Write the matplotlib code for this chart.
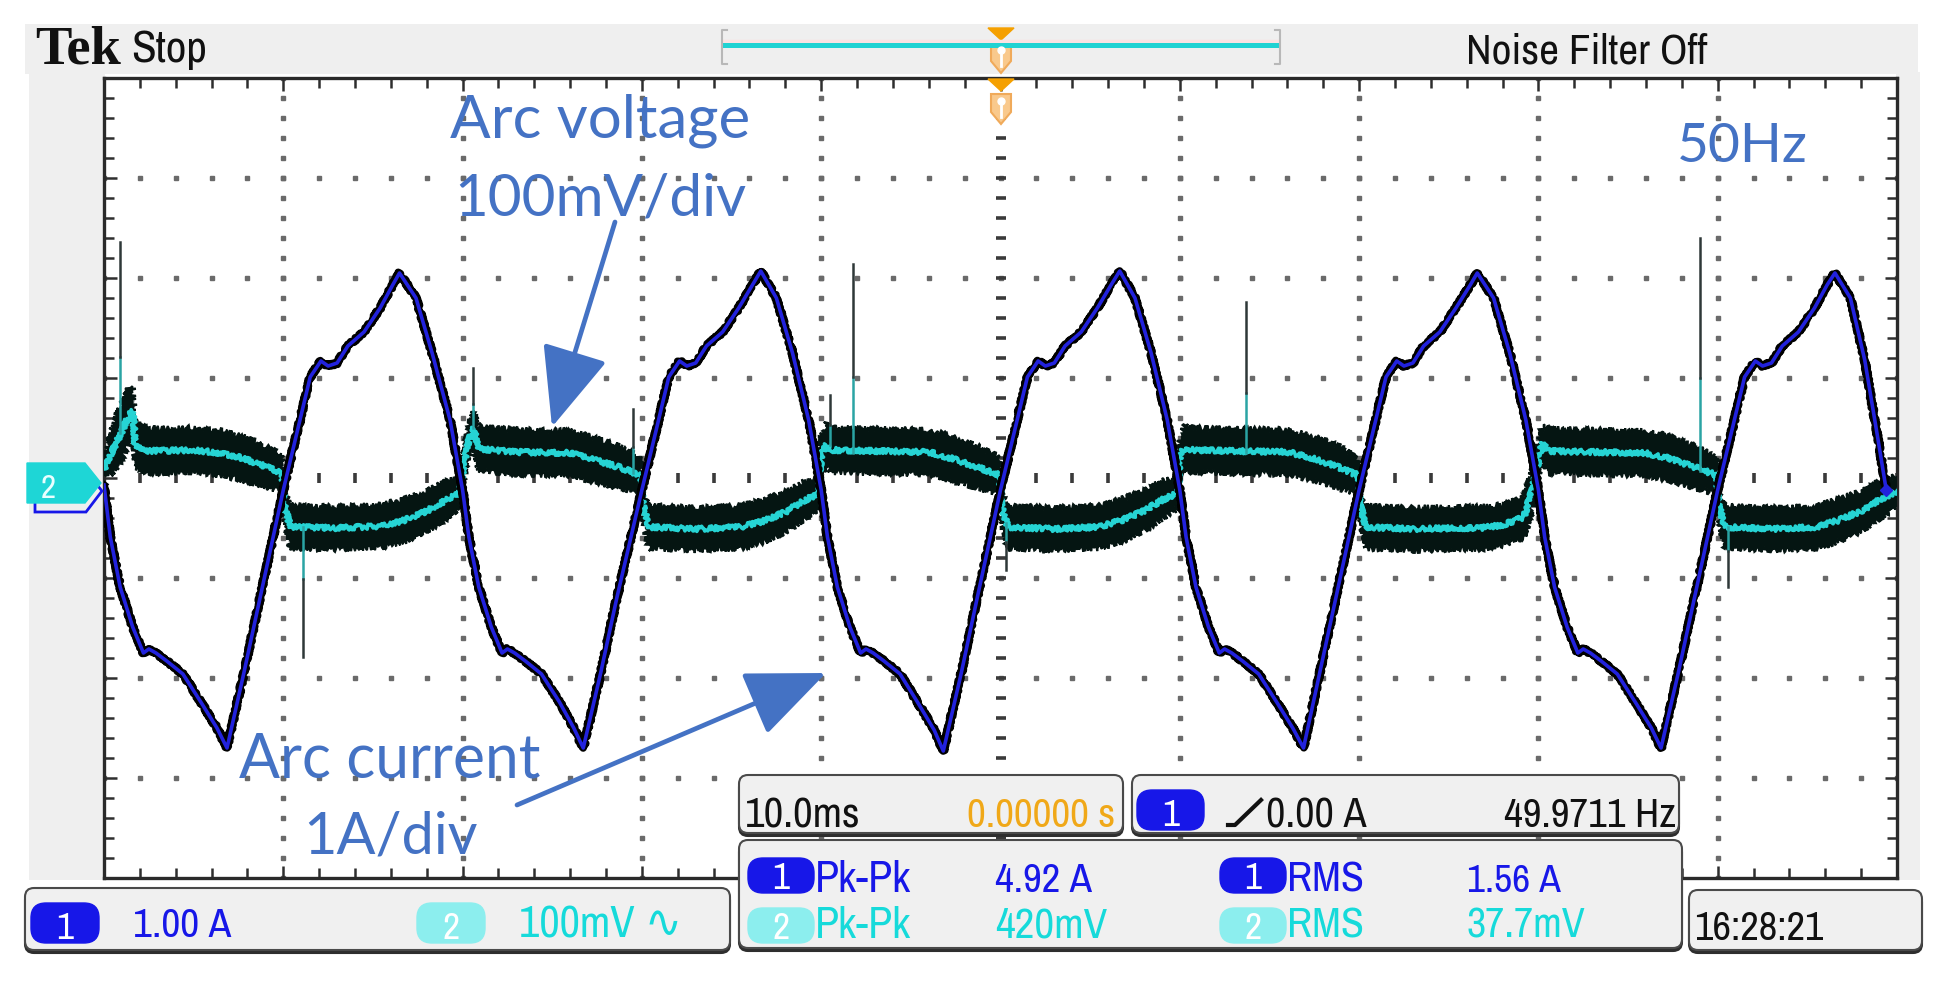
import numpy as np
import matplotlib
matplotlib.use("Agg")
import matplotlib.pyplot as plt
from matplotlib import font_manager as fm
from matplotlib.patches import Polygon, FancyBboxPatch, Rectangle, FancyArrowPatch

W, H = 1947, 983

# scope settings
ms_per_div = 10.0
amp_per_div = 1.0      # ch1, arc current
mv_per_div = 100.0     # ch2, arc voltage
ch1_pos = -0.12        # ground marker positions, divisions
ch2_pos = -0.05

# ch1: arc current (ms, A)
cur_t = [
    0.0, 0.35, 0.9, 1.6, 2.2, 2.5, 2.9, 3.5, 4.4, 5.4, 6.3, 6.86, 7.8, 8.7, 10.0,
    11.5, 12.1, 12.5, 13.0, 13.6, 14.5, 15.4, 16.1, 16.48, 17.4, 18.3, 19.3, 20.0,
    20.35, 20.9, 21.6, 22.2, 22.5, 22.9, 23.5, 24.4, 25.4, 26.2, 26.73, 27.7, 28.6, 30.0,
    31.5, 32.1, 32.5, 33.0, 33.6, 34.5, 35.4, 36.2, 36.63, 37.5, 38.4, 39.3, 40.0,
    40.35, 40.9, 41.6, 42.2, 42.5, 42.9, 43.5, 44.4, 45.4, 46.3, 46.81, 47.8, 48.7, 50.0,
    51.5, 52.1, 52.5, 53.0, 53.6, 54.5, 55.4, 56.2, 56.65, 57.5, 58.4, 59.3, 60.0,
    60.35, 60.9, 61.6, 62.2, 62.5, 62.9, 63.5, 64.4, 65.4, 66.3, 66.90, 67.8, 68.7, 70.0,
    71.5, 72.1, 72.5, 73.0, 73.6, 74.5, 75.4, 76.2, 76.59, 77.5, 78.4, 79.3, 80.0,
    80.35, 80.9, 81.6, 82.2, 82.5, 82.9, 83.5, 84.4, 85.4, 86.3, 86.84, 87.8, 88.7, 90.0,
    91.5, 92.1, 92.5, 93.0, 93.6, 94.5, 95.4, 96.1, 96.54, 97.4, 98.2, 98.9, 99.4,
]
cur_a = [
    0.05, -0.47, -0.97, -1.37, -1.63, -1.59, -1.63, -1.71, -1.84, -2.12, -2.38, -2.58, -1.83, -1.08, 0.0,
    1.13, 1.29, 1.24, 1.27, 1.44, 1.58, 1.82, 2.05, 2.17, 1.92, 1.37, 0.70, 0.0,
    -0.47, -0.97, -1.37, -1.63, -1.59, -1.63, -1.71, -1.84, -2.12, -2.38, -2.58, -1.83, -1.08, 0.0,
    1.13, 1.29, 1.24, 1.27, 1.44, 1.58, 1.82, 2.06, 2.19, 1.92, 1.37, 0.70, 0.0,
    -0.47, -0.97, -1.37, -1.63, -1.59, -1.63, -1.71, -1.84, -2.13, -2.40, -2.61, -1.84, -1.08, 0.0,
    1.13, 1.29, 1.24, 1.27, 1.44, 1.58, 1.82, 2.06, 2.19, 1.92, 1.37, 0.70, 0.0,
    -0.47, -0.97, -1.37, -1.63, -1.59, -1.63, -1.71, -1.84, -2.12, -2.38, -2.58, -1.83, -1.08, 0.0,
    1.13, 1.29, 1.24, 1.27, 1.44, 1.58, 1.82, 2.05, 2.17, 1.92, 1.37, 0.70, 0.0,
    -0.47, -0.97, -1.37, -1.63, -1.59, -1.63, -1.71, -1.84, -2.12, -2.38, -2.58, -1.83, -1.08, 0.0,
    1.13, 1.29, 1.24, 1.27, 1.44, 1.58, 1.82, 2.05, 2.17, 1.92, 1.30, 0.55, 0.0,
]

# ch2: arc voltage (ms, mV) with the spread of the noise band (mV)
volt_t = [
    0.0, 0.4, 0.9, 1.4, 1.6, 1.75, 2.5, 5.0, 6.5, 7.5, 8.5, 9.5, 9.95,
    10.05, 10.4, 13.0, 15.5, 16.8, 18.0, 19.0, 19.85,
    20.0, 20.3, 20.6, 20.9, 23.0, 26.0, 27.2, 28.7, 29.6, 29.95,
    30.05, 30.4, 33.0, 35.5, 36.8, 38.0, 39.0, 39.9,
    40.0, 40.3, 40.6, 43.0, 46.0, 47.2, 48.7, 49.6, 49.95,
    50.05, 50.4, 53.0, 55.5, 56.8, 58.0, 59.0, 59.9,
    60.0, 60.3, 60.6, 63.0, 66.0, 67.2, 68.7, 69.6, 69.95,
    70.05, 70.4, 73.0, 75.5, 76.8, 78.0, 79.2, 79.7, 80.2,
    80.6, 83.0, 86.0, 87.2, 88.7, 89.6, 89.95,
    90.05, 90.4, 93.0, 95.5, 96.8, 98.0, 99.0, 100.0,
]
volt_mv = [
    14, 30, 48, 68, 72, 38, 32, 33, 30, 26, 20, 13, 10,
    -22, -44, -45, -43, -37, -28, -18, -10,
    10, 40, 55, 34, 31, 30, 24, 16, 10, 8,
    -22, -44, -46, -44, -38, -29, -18, -10,
    28, 38, 33, 32, 31, 25, 16, 10, 8,
    -22, -44, -46, -44, -37, -28, -17, -10,
    28, 36, 33, 32, 31, 26, 17, 10, 8,
    -22, -44, -46, -45, -45, -42, -34, -4, 40,
    32, 31, 30, 25, 16, 10, 8,
    -22, -44, -46, -44, -37, -28, -17, -8,
]
volt_spread = [
    8, 22, 28, 28, 24, 22, 22, 22, 22, 22, 21, 19, 15,
    12, 21, 21, 21, 21, 20, 19, 15,
    10, 15, 17, 22, 22, 22, 22, 21, 19, 15,
    12, 21, 21, 21, 21, 20, 19, 15,
    17, 22, 22, 22, 22, 22, 21, 19, 15,
    12, 21, 21, 21, 21, 20, 19, 15,
    17, 22, 22, 22, 22, 22, 21, 19, 15,
    12, 21, 21, 21, 21, 20, 20, 19, 17,
    22, 22, 22, 22, 21, 19, 15,
    12, 21, 21, 21, 21, 20, 19, 15,
]

# voltage spikes (ms, base mV, tip mV)
spike_t = [0.9, 11.1, 20.6, 29.5, 40.5, 41.8, 50.3, 63.7, 89.0, 90.6]
spike_base = [50, -44, 55, 10, 38, 30, -40, 30, 12, -44]
spike_tip = [241, -174, 115, 74, 88, 219, -87, 181, 245, -104]

# readouts
ch1_scale = "1.00 A"
ch2_scale = "100mV \u223f"
time_scale = "10.0ms"
trig_pos = "0.00000 s"
trig_level = "0.00 A"
trig_freq = "49.9711 Hz"
meas_names = ["Pk-Pk", "RMS"]
meas_ch1 = ["4.92 A", "1.56 A"]
meas_ch2 = ["420mV", "37.7mV"]
clock = "16:28:21"

BLUE = "#1717e8"
CYAN = "#16dada"
CYAN_BADGE = "#8ceeee"
ORANGE = "#f0a818"
NOTE = "#4472c4"

avail = {f.name for f in fm.fontManager.ttflist}
ui_font = next((f for f in ["Archivo Narrow", "Roboto Condensed", "Liberation Sans Narrow"]
                if f in avail), "DejaVu Sans")
ui_family = [ui_font, "DejaVu Sans"]

fig = plt.figure(figsize=(W / 100, H / 100), dpi=100)
fig.patch.set_facecolor("white")

bg = fig.add_axes([0, 0, 1, 1], zorder=0)
bg.set_xlim(0, W)
bg.set_ylim(H, 0)
bg.axis("off")

ax = fig.add_axes([104 / W, 1 - 878 / H, (1897 - 104) / W, 800 / H], zorder=1)
ax.set_facecolor("white")
ax.set_xlim(0, 10 * ms_per_div)
ax.set_ylim(-4, 4)

fg = fig.add_axes([0, 0, 1, 1], zorder=2)
fg.set_xlim(0, W)
fg.set_ylim(H, 0)
fg.axis("off")

# bezel
for x0, y0, w, h in [(25, 24, 1893, 50), (29, 72, 76, 808), (1896, 72, 24, 808)]:
    bg.add_patch(Rectangle((x0, y0), w, h, color="#efefef", lw=0))

# graticule
for k in range(1, 10):
    if k == 5:
        continue
    gy = np.arange(-4, 4.001, 0.2)
    ax.plot(np.full(gy.size, k * ms_per_div), gy, ls="none", marker="s", ms=2.2,
            color="#6a6a6a", zorder=1)
for k in range(-3, 4):
    if k == 0:
        continue
    gx = np.arange(0, 100.001, 2)
    ax.plot(gx, np.full(gx.size, k), ls="none", marker="s", ms=2.2, color="#6a6a6a", zorder=1)
cy = np.arange(-4, 4.001, 0.2)
ax.plot(np.full(cy.size, 50), cy, ls="none", marker="_", ms=7, mew=2.6, color="#3a3a3a", zorder=1)
cx = np.arange(0, 100.001, 2)
ax.plot(cx, np.zeros(cx.size), ls="none", marker="|", ms=7, mew=2.6, color="#3a3a3a", zorder=1)

ax.set_xticks(np.arange(0, 100.1, 10))
ax.set_xticks(np.arange(0, 100.1, 2), minor=True)
ax.set_yticks(np.arange(-4, 4.1, 1))
ax.set_yticks(np.arange(-4, 4.01, 0.2), minor=True)
ax.tick_params(which="both", direction="in", top=True, right=True, bottom=True, left=True,
               labelbottom=False, labelleft=False, color="#2e2e2e")
ax.tick_params(which="major", length=9, width=1.8)
ax.tick_params(which="minor", length=7, width=1.8)
for s in ax.spines.values():
    s.set_color("#2a2a2a")
    s.set_linewidth(2.4)

# ch2 voltage: noise band + trace
vt = np.array(volt_t)
vd = np.array(volt_mv) / mv_per_div + ch2_pos
vs = np.array(volt_spread) / mv_per_div
band, = ax.fill(np.r_[vt, vt[::-1]], np.r_[vd + vs, (vd - vs)[::-1]], color="#051512", lw=1.5,
                zorder=3)
band.set_sketch_params(scale=3, length=3, randomness=3)
vl, = ax.plot(vt, vd, color="#26d4d4", lw=2.6, zorder=4)
vl.set_sketch_params(scale=2.5, length=3, randomness=3)

for t, b, tip in zip(spike_t, spike_base, spike_tip):
    bd = b / mv_per_div + ch2_pos
    td = tip / mv_per_div + ch2_pos
    md = bd + 0.4 * (td - bd)
    ax.plot([t, t], [bd, md], color="#2aa4a4", lw=1.8, zorder=4)
    ax.plot([t, t], [md, td], color="#2e3838", lw=1.8, zorder=4)

# ch1 current
cd = np.array(cur_a) / amp_per_div + ch1_pos
cb, = ax.plot(cur_t, cd, color="black", lw=5.4, solid_joinstyle="round", zorder=5)
cb.set_sketch_params(scale=1.5, length=3, randomness=3)
ax.plot(cur_t, cd, color="#2222dd", lw=2.6, solid_joinstyle="round", zorder=6)
ax.plot(cur_t[-1], cd[-1], marker="D", ms=6, color="#2222dd", zorder=6)

# channel markers on the left
fg.add_patch(Polygon([(35, 471), (86, 471), (102, 491), (86, 512), (35, 512)], closed=True,
                     fill=False, ec=BLUE, lw=2))
fg.add_patch(Polygon([(27, 463), (85, 463), (101, 483), (85, 503), (27, 503)], closed=True,
                     fc="#1ed6d6", ec="#1ed6d6"))
fg.text(48, 498, "2", color="#e8ffff", fontsize=24, family=ui_family, ha="center", va="baseline")

# top bar
fg.plot([724, 1278], [41, 41], color="#fbe2e2", lw=2.5)
fg.plot([724, 1278], [45, 45], color="#22d2d2", lw=3.6)
fg.plot([727, 722, 722, 727], [30, 30, 64, 64], color="#b8b8b8", lw=1.5)
fg.plot([1275, 1280, 1280, 1275], [30, 30, 64, 64], color="#b8b8b8", lw=1.5)
for top in (28, 79):
    fg.add_patch(Polygon([(988, top), (1014, top), (1001, top + 12)], closed=True,
                         fc="#f5a000", ec="#f5a000"))
    fg.add_patch(Polygon([(991, top + 15), (1011, top + 15), (1011, top + 33), (1001, top + 45),
                          (991, top + 33)], closed=True, fc="#f9c98c", ec="#f0aa5a", lw=1.5))
    fg.plot([1001, 1001], [top + 22, top + 38], color="white", lw=2)
    fg.plot(1001, top + 22, marker="o", ms=5, color="white")

texts = []
texts.append((fg.text(35, 63, "Tek", family="Liberation Serif", weight="bold", fontsize=30,
                      color="#111111", va="baseline"), 86))
texts.append((fg.text(131, 62, "Stop", family=ui_family, fontsize=22, color="#111111",
                      va="baseline"), 76))
texts.append((fg.text(1466, 63, "Noise Filter Off", family=ui_family, fontsize=24,
                      color="#111111", va="baseline"), 241))


def box(x0, y0, x1, y1):
    fg.add_patch(FancyBboxPatch((x0, y0 + 3), x1 - x0, y1 - y0, boxstyle="round,pad=0,rounding_size=9",
                                fc="#2e2e2e", ec="#2e2e2e", lw=1.5))
    fg.add_patch(FancyBboxPatch((x0, y0), x1 - x0, y1 - y0, boxstyle="round,pad=0,rounding_size=9",
                                fc="#f0f0f0", ec="#4a4a4a", lw=1.5))


def badge(x0, y0, x1, y1, label, fc):
    fg.add_patch(FancyBboxPatch((x0, y0), x1 - x0, y1 - y0, boxstyle="round,pad=0,rounding_size=15",
                                fc=fc, ec=fc, lw=1))
    fg.text((x0 + x1) / 2, y1 - 4, label, color="white", fontsize=27, family=ui_family,
            weight="bold", ha="center", va="baseline")


box(25, 888, 730, 950)
box(739, 775, 1123, 833)
box(1132, 775, 1679, 833)
box(739, 840, 1682, 948)
box(1689, 890, 1922, 950)

badge(31, 903, 99, 943, "1", BLUE)
badge(417, 903, 485, 943, "2", CYAN_BADGE)
badge(1137, 790, 1204, 830, "1", BLUE)
badge(748, 858, 814, 893, "1", BLUE)
badge(1220, 858, 1286, 893, "1", BLUE)
badge(748, 908, 814, 943, "2", CYAN_BADGE)
badge(1220, 908, 1286, 943, "2", CYAN_BADGE)

# trigger slope glyph
fg.plot([1228, 1235, 1261], [825, 825, 800], color="#111111", lw=3)

ui = [
    (ch1_scale, 133, 937, 99, BLUE),
    (ch2_scale, 519, 937, 164, CYAN),
    (time_scale, 745, 827, 116, "#111111"),
    (trig_pos, 967, 827, 150, ORANGE),
    (trig_level, 1266, 827, 101, "#111111"),
    (trig_freq, 1504, 827, 172, "#111111"),
    (meas_names[0], 815, 892, 96, BLUE),
    (meas_ch1[0], 995, 892, 97, BLUE),
    (meas_names[1], 1287, 892, 77, BLUE),
    (meas_ch1[1], 1467, 892, 94, BLUE),
    (meas_names[0], 815, 938, 96, CYAN),
    (meas_ch2[0], 995, 938, 112, CYAN),
    (meas_names[1], 1287, 938, 77, CYAN),
    (meas_ch2[1], 1467, 938, 119, CYAN),
    (clock, 1694, 940, 130, "#111111"),
]
for s, x, y, w, c in ui:
    texts.append((fg.text(x, y, s, family=ui_family, fontsize=24, color=c, va="baseline"), w))

# annotations
notes = [
    ("Arc voltage", 450, 137, 301),
    ("100mV/div", 454, 215, 292),
    ("50Hz", 1677, 162, 131),
    ("Arc current", 239, 777, 302),
    ("1A/div", 303, 853, 174),
]
for s, x, y, w in notes:
    texts.append((fg.text(x, y, s, family="Lato", fontsize=40, color=NOTE, va="baseline",
                          zorder=8), w))

fg.add_patch(FancyArrowPatch((615, 222), (552, 427), arrowstyle="-|>,head_length=2.5,head_width=1.05",
                             mutation_scale=20, color=NOTE, lw=3.4, shrinkA=0, shrinkB=0, zorder=7))
fg.add_patch(FancyArrowPatch((517, 805), (826, 673), arrowstyle="-|>,head_length=2.5,head_width=1.05",
                             mutation_scale=20, color=NOTE, lw=3.4, shrinkA=0, shrinkB=0, zorder=7))

# fit every text to the width it takes on the screen
r = fig.canvas.get_renderer()
for t, w in texts:
    bb = t.get_window_extent(r)
    if bb.width > 0:
        t.set_fontsize(t.get_fontsize() * w / bb.width)

fig.savefig("out.png", dpi=100, facecolor="white")
